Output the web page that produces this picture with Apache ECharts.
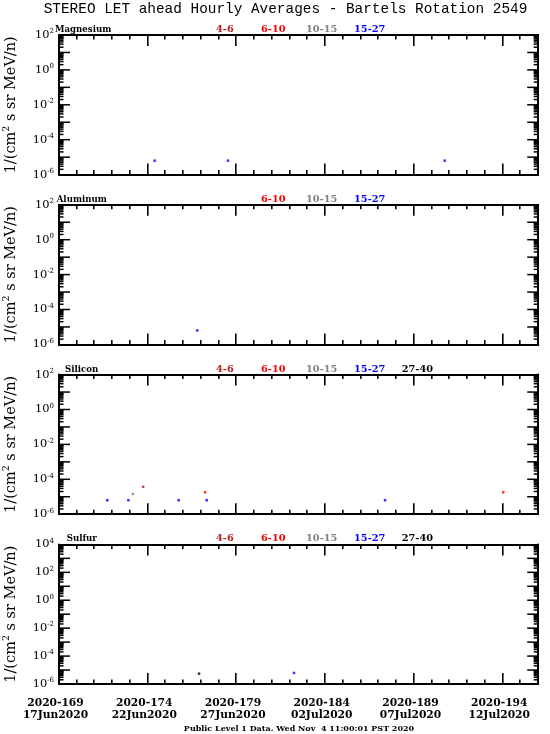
<!DOCTYPE html>
<html><head><meta charset="utf-8">
<script src="https://cdn.jsdelivr.net/npm/echarts@6/dist/echarts.min.js"></script>
<style>html,body{margin:0;padding:0;background:#fff}#c{width:550px;height:734px}</style>
</head><body><div id="c"></div><script>
// ---- texts ----
const titleText = 'STEREO LET ahead Hourly Averages - Bartels Rotation 2549';
const footerText = 'Public Level 1 Data. Wed Nov  4 11:00:01 PST 2020';
const yName = '1/(cm{sup|2} s sr MeV/n)';
// ---- x axis (day of year) ----
const dayMin = 169, dayMax = 196;
const majorDays = [169, 174, 179, 184, 189, 194];
const dayLabels = ['2020-169', '2020-174', '2020-179', '2020-184', '2020-189', '2020-194'];
const dateLabels = ['17Jun2020', '22Jun2020', '27Jun2020', '02Jul2020', '07Jul2020', '12Jul2020'];
// ---- panels ----
const panelNames = ['Magnesium', 'Aluminum', 'Silicon', 'Sulfur'];
const panelYMin = [1e-6, 1e-6, 1e-6, 1e-6];
const panelYMax = [1e2, 1e2, 1e2, 1e4];
const channelNames = ['4-6', '6-10', '10-15', '15-27', '27-40'];
const channelColors = ['#b22222', '#ff0000', '#808080', '#0000ff', '#000000'];
const panelChannels = [[0, 1, 2, 3], [1, 2, 3], [0, 1, 2, 3, 4], [0, 1, 2, 3, 4]];
// ---- data: [day of year, flux] ----
const mg_15_27 = [[174.39, 6.3e-6], [178.52, 6.3e-6], [190.73, 6.3e-6]];
const al_15_27 = [[176.79, 6.3e-6]];
const si_4_6 = [[173.74, 3.7e-5]];
const si_6_10 = [[177.23, 1.8e-5], [194.03, 1.8e-5]];
const si_10_15 = [[173.16, 1.44e-5]];
const si_15_27 = [[171.72, 6.3e-6], [172.91, 6.3e-6], [175.74, 6.3e-6], [177.32, 6.3e-6], [187.37, 6.3e-6]];
const s_15_27 = [[182.24, 6.2e-6]];
const s_27_40 = [[176.89, 5.5e-6]];
// [panel index, channel index, data]
const seriesDefs = [
  [0, 3, mg_15_27],
  [1, 3, al_15_27],
  [2, 0, si_4_6], [2, 1, si_6_10], [2, 2, si_10_15], [2, 3, si_15_27],
  [3, 3, s_15_27], [3, 4, s_27_40]
];

// ---- layout ----
const gridLeft = 59, gridWidth = 479.2, gridTop0 = 35, gridStep = 169.8, gridHeight = 139.6;
const nameX = [55, 56.7, 65, 66.7];
const chanX = [216, 261, 306, 354, 401.7];
const serif = '"DejaVu Serif", serif';
const tickW = 1.5, majorLen = 11, minorLen = 4.5;

const chart = echarts.init(document.getElementById('c'), null, {renderer: 'canvas'});
const grids = [], xAxes = [], yAxes = [], series = [], graphics = [];

function tickLabelFmt(v) {
  const e = Math.round(Math.log10(v));
  if (e % 2 !== 0) return '';
  return '10{sup|' + e + '}';
}
// tick marks as small filled rectangles
function vTick(x, y, len) { // len > 0 goes up, < 0 goes down
  const y0 = len > 0 ? y - len : y;
  return {type: 'rect', shape: {x: Math.round(x) - 1, y: y0, width: 1.6, height: Math.abs(len)}, style: {fill: '#000'}};
}
function hTick(x, y, len) { // len > 0 goes right, < 0 goes left
  const x0 = len > 0 ? x : x + len;
  return {type: 'rect', shape: {x: x0, y: y - tickW / 2, width: Math.abs(len), height: tickW}, style: {fill: '#000'}};
}

panelNames.forEach((name, i) => {
  const top = gridTop0 + gridStep * i;
  grids.push({left: gridLeft, top: top, width: gridWidth, height: gridHeight, outerBoundsMode: 'none'});
  const last = i === panelNames.length - 1;
  const baseX = {type: 'value', gridIndex: i, min: dayMin, max: dayMax, interval: 5, splitLine: {show: false},
    axisTick: {show: false}};
  xAxes.push(Object.assign({}, baseX, {
    position: 'bottom',
    axisLine: {show: true, onZero: false, lineStyle: {color: '#000', width: 2}},
    axisLabel: last ? {
      show: true, showMinLabel: true, showMaxLabel: true, hideOverlap: false,
      margin: 13, color: '#000', fontFamily: serif, fontWeight: 'bold', fontSize: 10.7, lineHeight: 12,
      padding: [0, 7, 0, 0],
      formatter: v => { const k = majorDays.indexOf(Math.round(v)); return (k < 0 || Math.abs(v - majorDays[k]) > 1e-6) ? '' : dayLabels[k] + '\n' + dateLabels[k]; }
    } : {show: false}
  }));
  xAxes.push(Object.assign({}, baseX, {
    position: 'top',
    axisLine: {show: true, onZero: false, lineStyle: {color: '#000', width: 2}},
    axisLabel: {show: false}
  }));
  const baseY = {type: 'log', logBase: 10, gridIndex: i, min: panelYMin[i], max: panelYMax[i], interval: 1,
    splitLine: {show: false}, axisTick: {show: false}};
  yAxes.push(Object.assign({}, baseY, {
    position: 'left',
    axisLine: {show: true, onZero: false, lineStyle: {color: '#000', width: 2}},
    axisLabel: {show: true, showMinLabel: true, showMaxLabel: true, hideOverlap: false, margin: 5,
      color: '#000', fontFamily: serif, fontSize: 11.4, formatter: tickLabelFmt,
      rich: {sup: {fontSize: 7, fontFamily: serif, color: '#000', verticalAlign: 'top', lineHeight: 14}}},
    name: yName, nameLocation: 'middle', nameRotate: 90, nameGap: 39,
    nameTextStyle: {color: '#000', fontFamily: serif, fontSize: 14.5,
      rich: {sup: {fontSize: 9.5, fontFamily: serif, color: '#000', verticalAlign: 'top', lineHeight: 18}}}
  }));
  yAxes.push(Object.assign({}, baseY, {
    position: 'right',
    axisLine: {show: true, onZero: false, lineStyle: {color: '#000', width: 2}},
    axisLabel: {show: false}
  }));
  // tick marks placed through the axes' scales: [day, flux, length, kind(0 = x tick, 1 = y tick)]
  const tickItems = [];
  for (let d = dayMin + 1; d < dayMax; d++) tickItems.push([d, panelYMin[i], majorDays.indexOf(d) >= 0 ? majorLen : minorLen, 0]);
  const e0 = Math.round(Math.log10(panelYMin[i])), e1 = Math.round(Math.log10(panelYMax[i]));
  for (let e = e0; e < e1; e++) {
    if (e > e0) tickItems.push([dayMin, Math.pow(10, e), majorLen, 1]);
    for (let m = 2; m <= 9; m++) tickItems.push([dayMin, m * Math.pow(10, e), minorLen, 1]);
  }
  series.push({
    type: 'custom', xAxisIndex: 2 * i, yAxisIndex: 2 * i, animation: false, clip: false, silent: true,
    dimensions: ['day', 'flux', 'len', 'kind'], encode: {x: 0, y: 1},
    data: tickItems,
    renderItem: (params, api) => {
      const len = api.value(2), kind = api.value(3);
      if (kind === 0) {
        const d = api.value(0);
        const pb = api.coord([d, panelYMin[i]]), pt = api.coord([d, panelYMax[i]]);
        return {type: 'group', children: [vTick(pb[0], pb[1], len), vTick(pt[0], pt[1], -len)]};
      }
      const v = api.value(1);
      const pl = api.coord([dayMin, v]), pr = api.coord([dayMax, v]);
      return {type: 'group', children: [hTick(pl[0], pl[1], len), hTick(pr[0], pr[1], -len)]};
    }
  });
  graphics.push({type: 'text', x: nameX[i], y: top - 5.2, silent: true,
    style: {text: name, font: 'bold 8.6px ' + serif, fill: '#000', textAlign: 'left', textVerticalAlign: 'middle'}});
  panelChannels[i].forEach(c => {
    graphics.push({type: 'text', x: chanX[c], y: top - 5.6, silent: true,
      style: {text: channelNames[c], font: 'bold 9.8px ' + serif, fill: channelColors[c], textAlign: 'left', textVerticalAlign: 'middle'}});
  });
});

seriesDefs.forEach(([p, c, d]) => {
  series.push({
    type: 'scatter', name: channelNames[c], xAxisIndex: 2 * p, yAxisIndex: 2 * p,
    data: d, symbol: 'rect', symbolSize: 2.5, itemStyle: {color: channelColors[c]},
    animation: false
  });
});

graphics.push({type: 'text', x: 285.5, y: 9, silent: true,
  style: {text: titleText, font: '14.4px "Liberation Mono", monospace', fill: '#000', textAlign: 'center', textVerticalAlign: 'middle'}});
graphics.push({type: 'text', x: 299, y: 729, silent: true,
  style: {text: footerText, font: 'bold 8px ' + serif, fill: '#000', textAlign: 'center', textVerticalAlign: 'middle'}});

chart.setOption({
  backgroundColor: '#fff',
  animation: false,
  grid: grids,
  xAxis: xAxes,
  yAxis: yAxes,
  series: series,
  graphic: {elements: graphics}
});
</script></body></html>
